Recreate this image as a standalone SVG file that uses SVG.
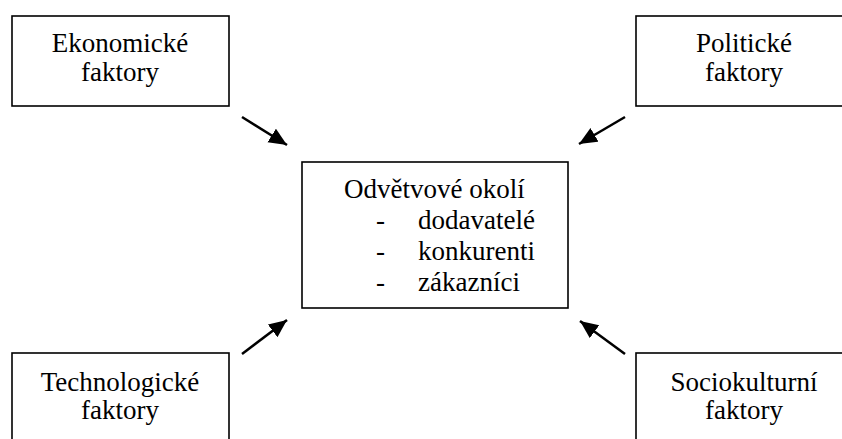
<svg xmlns="http://www.w3.org/2000/svg" width="842" height="439" viewBox="0 0 842 439">
<style>
.box{fill:#fff;stroke:#000;stroke-width:1.6}
.t{font-family:"Liberation Serif","Times New Roman",serif;font-size:27px;fill:#000}
.c{text-anchor:middle}
.arr{stroke:#000;stroke-width:2.5;fill:none;marker-end:url(#ah)}
</style>
<defs>
<marker id="ah" markerUnits="userSpaceOnUse" markerWidth="20" markerHeight="18" refX="18" refY="8" orient="auto">
<path d="M0,0 L18,8 L0,16 z" fill="#000"/>
</marker>
</defs>
<rect width="842" height="439" fill="#fff"/>
<g id="ekonomicke">
<rect class="box" x="12" y="16" width="217" height="90"/>
<text class="t c" x="120" y="52">Ekonomické</text>
<text class="t c" x="120" y="81">faktory</text>
</g>
<g id="politicke">
<rect class="box" x="636" y="16" width="210" height="90"/>
<text class="t c" x="744" y="52">Politické</text>
<text class="t c" x="744" y="81">faktory</text>
</g>
<g id="technologicke">
<rect class="box" x="12" y="353" width="217" height="95"/>
<text class="t c" x="120" y="391">Technologické</text>
<text class="t c" x="120" y="419">faktory</text>
</g>
<g id="sociokulturni">
<rect class="box" x="636" y="353" width="210" height="95"/>
<text class="t c" x="744" y="391">Sociokulturní</text>
<text class="t c" x="744" y="419">faktory</text>
</g>
<g id="odvetvove">
<rect class="box" x="302" y="162" width="266" height="146"/>
<text class="t" x="344" y="198">Odvětvové okolí</text>
<text class="t" x="376" y="229">-</text>
<text class="t" x="418" y="229">dodavatelé</text>
<text class="t" x="376" y="260">-</text>
<text class="t" x="418" y="260">konkurenti</text>
<text class="t" x="376" y="291">-</text>
<text class="t" x="418" y="291">zákazníci</text>
</g>
<g id="connectors">
<line class="arr" x1="242" y1="117" x2="287" y2="145"/>
<line class="arr" x1="625" y1="117" x2="579" y2="144"/>
<line class="arr" x1="242" y1="354" x2="287" y2="320"/>
<line class="arr" x1="625" y1="354" x2="580" y2="321"/>
</g>
</svg>
